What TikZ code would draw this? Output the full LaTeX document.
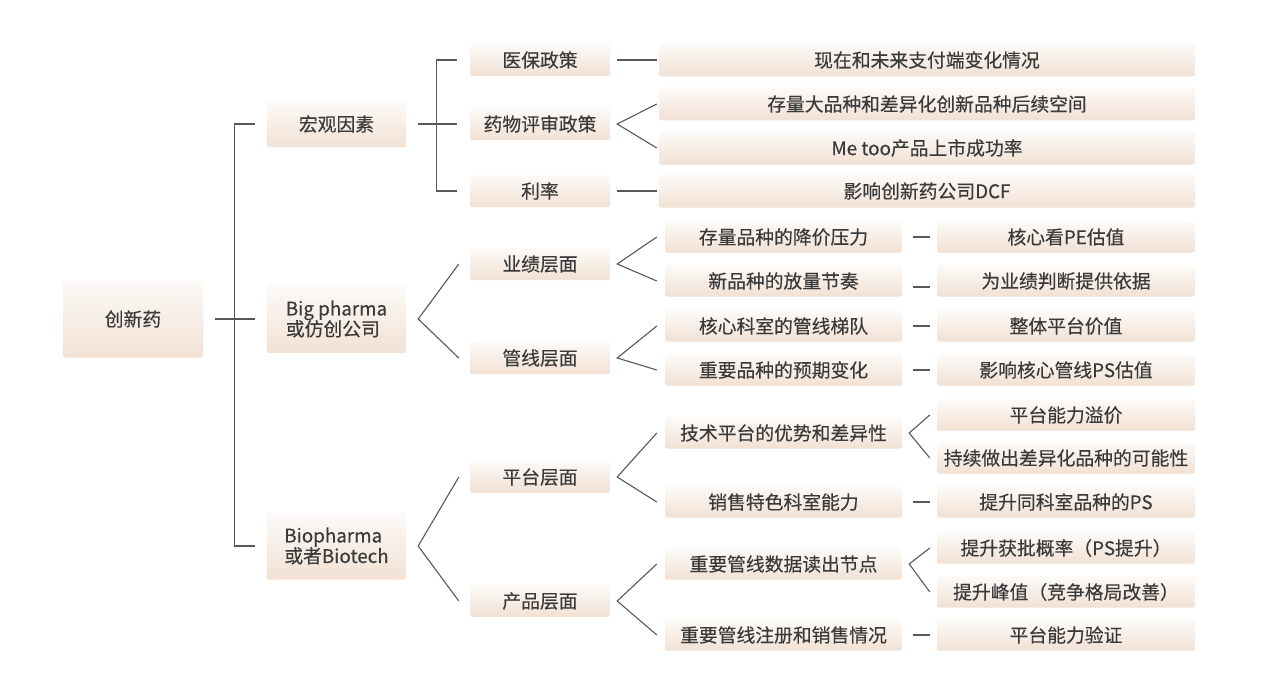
\documentclass[tikz,border=0pt]{standalone}
\usepackage{fontspec}
\setmainfont{Noto Sans CJK SC}[FakeBold=0.3]
\usetikzlibrary{calc,positioning}
\definecolor{BoxTop}{RGB}{252,250,248}
\definecolor{BoxMid}{RGB}{249,241,235}
\definecolor{BoxBottom}{RGB}{242,225,212}
\definecolor{LineGray}{RGB}{88,88,88}
\definecolor{TextGray}{RGB}{58,58,58}

\begin{document}
\begin{tikzpicture}[x=1pt, y=-1pt,
    box/.style={rounded corners=2pt, top color=BoxTop, middle color=BoxMid, bottom color=BoxBottom,
        text=TextGray, font=\fontsize{18.8}{20.5}\selectfont, inner sep=0pt},
    lvlone/.style={box, minimum width=139pt, align=left},
    lvltwo/.style={box, minimum width=140pt, minimum height=32pt},
    widebox/.style={box, minimum width=536pt, minimum height=33pt},
    midbox/.style={box, minimum width=237pt, minimum height=31pt},
    endbox/.style={box, minimum width=258pt, minimum height=31pt},
    link/.style={draw=LineGray, line width=1.1pt}]
    \useasboundingbox[fill=white] (0,0) rectangle (1284,674);

    % root and first level
    \node[box, minimum width=140pt, minimum height=77pt] (root) at (133,319) {创新药};
    \node[lvlone, minimum height=46pt] (macro) at (336.5,124) {宏观因素};
    \node[lvlone, minimum height=68pt] (big) at (336.5,319) {Big pharma\\或仿创公司};
    \node[lvlone, minimum height=67pt] (bio) at (336.5,546) {Biopharma\\或者Biotech};

    % second level
    \node[lvltwo] (ybzc) at (540,60) {医保政策};
    \node[lvltwo] (ywps) at (540,124) {药物评审政策};
    \node[lvltwo] (lilv) at (540,191) {利率};
    \node[lvltwo] (yjcm) at (540,264) {业绩层面};
    \node[lvltwo] (gxcm) at (540,358) {管线层面};
    \node[lvltwo] (ptcm) at (540,477) {平台层面};
    \node[lvltwo] (cpcm) at (540,601) {产品层面};

    % macro details
    \node[widebox] (m1) at (927,60) {现在和未来支付端变化情况};
    \node[widebox] (m2) at (927,104) {存量大品种和差异化创新品种后续空间};
    \node[widebox] (m3) at (927,148) {Me too产品上市成功率};
    \node[widebox] (m4) at (927,191) {影响创新药公司DCF};

    % third level
    \node[midbox] (b1) at (783.5,237) {存量品种的降价压力};
    \node[midbox] (b2) at (783.5,281) {新品种的放量节奏};
    \node[midbox] (b3) at (783.5,326) {核心科室的管线梯队};
    \node[midbox] (b4) at (783.5,370) {重要品种的预期变化};
    \node[midbox] (p1) at (783.5,433) {技术平台的优势和差异性};
    \node[midbox] (p2) at (783.5,502) {销售特色科室能力};
    \node[midbox] (p3) at (783.5,564) {重要管线数据读出节点};
    \node[midbox] (p4) at (783.5,635) {重要管线注册和销售情况};

    % fourth level
    \node[endbox] (c1) at (1066,237) {核心看PE估值};
    \node[endbox] (c2) at (1066,281) {为业绩判断提供依据};
    \node[endbox] (c3) at (1066,326) {整体平台价值};
    \node[endbox] (c4) at (1066,370) {影响核心管线PS估值};
    \node[endbox] (d1) at (1066,415) {平台能力溢价};
    \node[endbox] (d2) at (1066,458) {持续做出差异化品种的可能性};
    \node[endbox] (d3) at (1066,502) {提升同科室品种的PS};
    \node[endbox] (d4) at (1066,548) {提升获批概率（PS提升）};
    \node[endbox] (d5) at (1066,592) {提升峰值（竞争格局改善）};
    \node[endbox] (d6) at (1066,635) {平台能力验证};

    % brackets
    \draw[link] ([xshift=12pt]root.east) -- ([xshift=-12pt]big.west);
    \draw[link] ([xshift=-12pt]macro.west) -- ++(-20,0) |- ([xshift=-12pt]bio.west);
    \draw[link] ([xshift=12pt]macro.east) -- ([xshift=-13pt]ywps.west);
    \draw[link] ([xshift=-13pt]ybzc.west) -- ++(-20,0) |- ([xshift=-13pt]lilv.west);

    % forks
    \draw[link] ([xshift=-11pt]yjcm.west) -- ([xshift=12pt]big.east) -- ([xshift=-11pt]gxcm.west);
    \draw[link] ([xshift=-11pt]ptcm.west) -- ([xshift=12pt]bio.east) -- ([xshift=-11pt]cpcm.west);
    \draw[link] ([xshift=-2pt]m2.west) -- ([xshift=7pt]ywps.east) -- ([xshift=-2pt]m3.west);
    \draw[link] ([xshift=-8pt]b1.west) -- ([xshift=7pt]yjcm.east) -- ([xshift=-8pt]b2.west);
    \draw[link] ([xshift=-8pt]b3.west) -- ([xshift=7pt]gxcm.east) -- ([xshift=-8pt]b4.west);
    \draw[link] ([xshift=-8pt]p1.west) -- ([xshift=7pt]ptcm.east) -- ([xshift=-8pt]p2.west);
    \draw[link] ([xshift=-8pt]p3.west) -- ([xshift=7pt]cpcm.east) -- ([xshift=-8pt]p4.west);
    \draw[link] ([xshift=-7pt]d1.west) -- ([xshift=7pt]p1.east) -- ([xshift=-7pt]d2.west);
    \draw[link] ([xshift=-7pt]d4.west) -- ([xshift=7pt]p3.east) -- ([xshift=-7pt]d5.west);

    % straight links
    \draw[link] ([xshift=7pt]ybzc.east) -- ([xshift=-2pt]m1.west);
    \draw[link] ([xshift=7pt]lilv.east) -- ([xshift=-2pt]m4.west);
    \draw[link] ([xshift=11pt]b1.east) -- ([xshift=-7pt]c1.west);
    \draw[link] ([xshift=11pt,yshift=-6pt]b2.east) -- ([xshift=-7pt,yshift=-6pt]c2.west);
    \draw[link] ([xshift=11pt]b3.east) -- ([xshift=-7pt]c3.west);
    \draw[link] ([xshift=11pt]b4.east) -- ([xshift=-7pt]c4.west);
    \draw[link] ([xshift=11pt]p2.east) -- ([xshift=-7pt]d3.west);
    \draw[link] ([xshift=11pt]p4.east) -- ([xshift=-7pt]d6.west);
\end{tikzpicture}
\end{document}
